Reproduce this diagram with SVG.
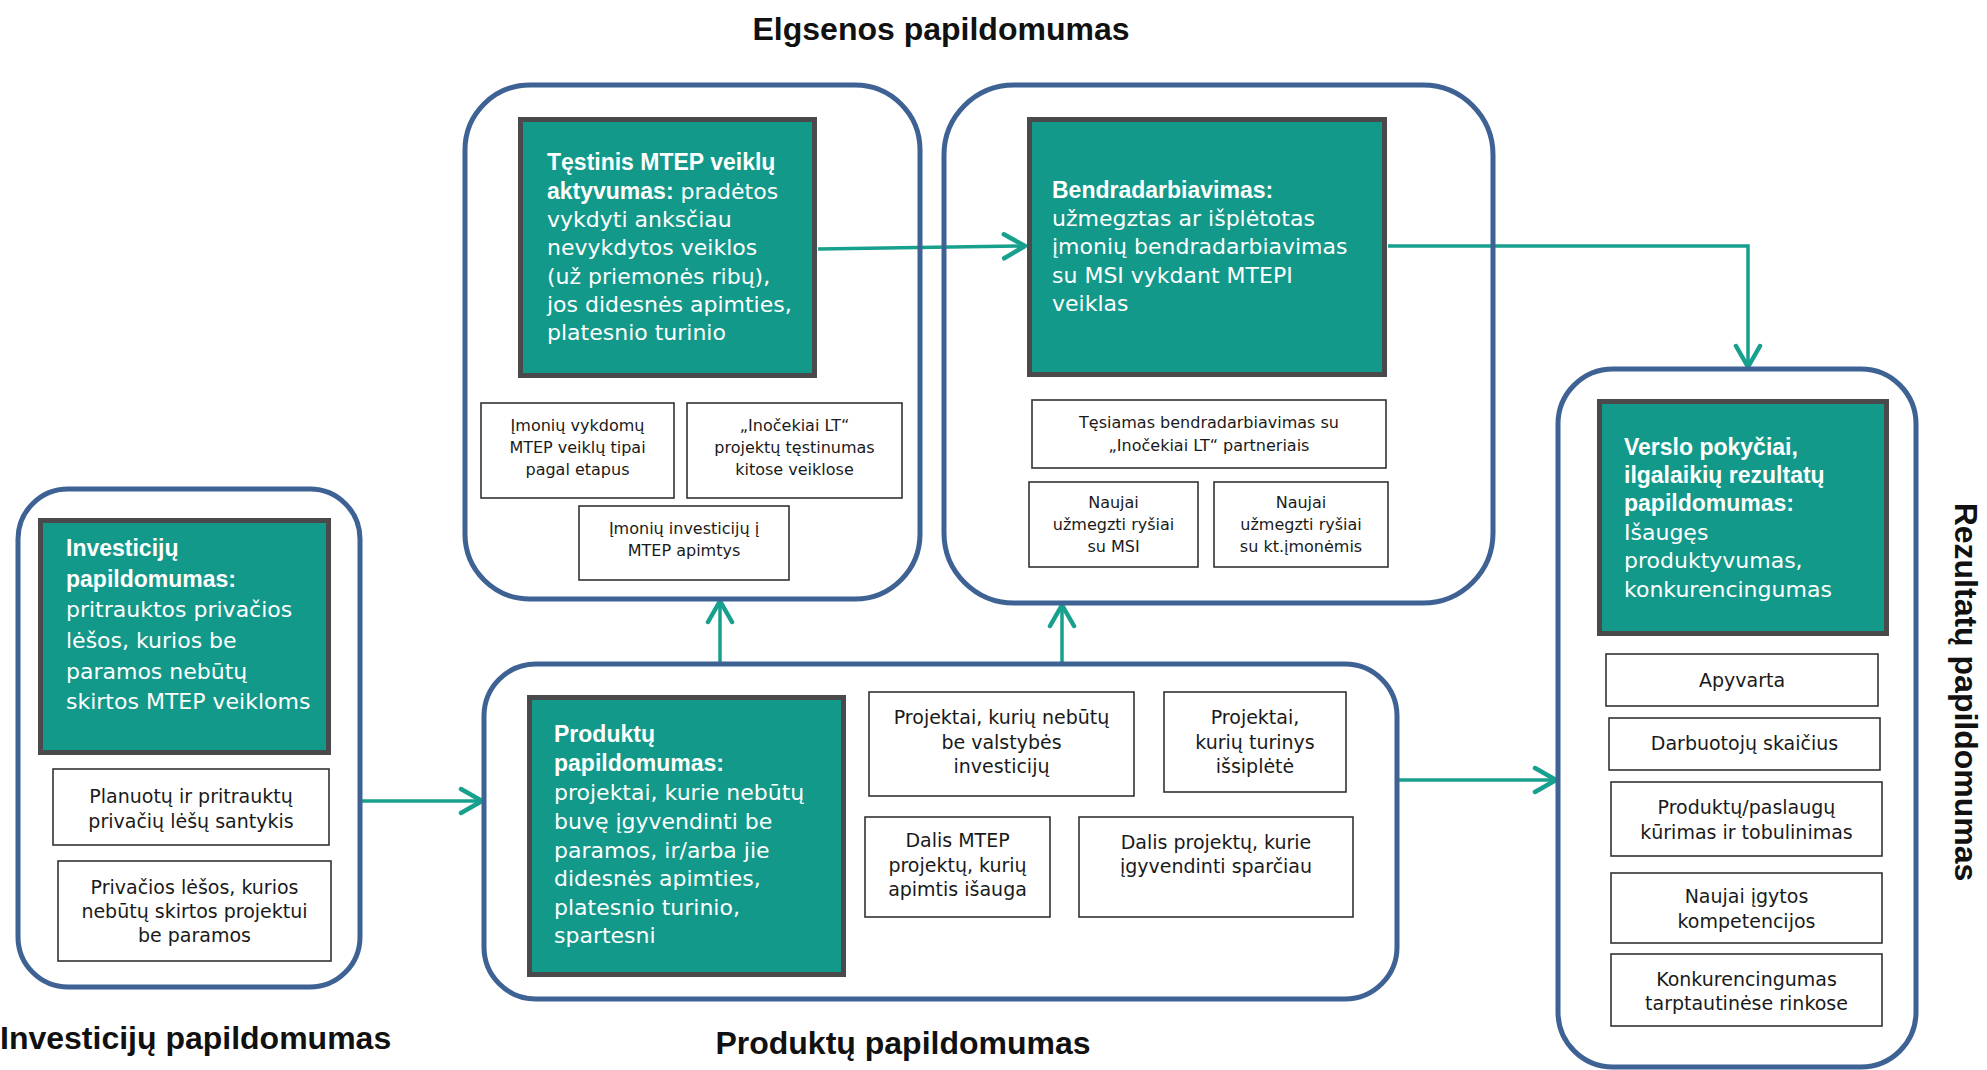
<svg xmlns="http://www.w3.org/2000/svg" width="1987" height="1070" viewBox="0 0 1987 1070">
<defs>
<style>
.cont{fill:none;stroke:#3D6293;stroke-width:5}
.gbox{fill:#12998A;stroke:#4A4A4C;stroke-width:5}
.sbox{fill:#fff;stroke:#333;stroke-width:1.6}
.gt{font-family:"DejaVu Sans",sans-serif;font-size:22px;fill:#fff}
.gb{font-family:"Liberation Sans",Arial,sans-serif;font-weight:bold;font-size:23px}
.st{font-family:"DejaVu Sans",sans-serif;font-size:16px;fill:#1a1a1a;text-anchor:middle}
.s19{font-size:19px}
.title{font-family:"Liberation Sans",Arial,sans-serif;font-weight:bold;font-size:32px;fill:#111}
.conn{stroke:#17A08D;stroke-width:3.5;fill:none;marker-end:url(#arr)}
</style>
<marker id="arr" markerUnits="userSpaceOnUse" markerWidth="30" markerHeight="30" viewBox="0 0 30 30" refX="27" refY="15" orient="auto">
<path d="M6,3 L27,15 L6,27" fill="none" stroke="#17A08D" stroke-width="4.5" stroke-linecap="round" stroke-linejoin="round"/>
</marker>
</defs>
<rect width="1987" height="1070" fill="#fff"/>

<g id="connectors">
<path class="conn" d="M818,249 L1025,246"/>
<path class="conn" d="M1388,246 L1748,246 L1748,367"/>
<path class="conn" d="M360,801 L482,801"/>
<path class="conn" d="M720,663 L720,601"/>
<path class="conn" d="M1062,663 L1062,605"/>
<path class="conn" d="M1397,780 L1556,780"/>
</g>

<g id="elgsenos-title">
<text class="title" x="941" y="40" text-anchor="middle">Elgsenos papildomumas</text>
</g>

<g id="testinis-group">
<rect class="cont" x="465" y="85" width="455" height="514" rx="65"/>
<g id="testinis">
<rect class="gbox" x="520.5" y="119.5" width="294" height="256"/>
<text class="gt" x="547" y="170"><tspan class="gb">Tęstinis MTEP veiklų</tspan></text>
<text class="gt" x="547" y="199"><tspan class="gb">aktyvumas:</tspan> pradėtos</text>
<text class="gt" x="547" y="227">vykdyti anksčiau</text>
<text class="gt" x="547" y="255">nevykdytos veiklos</text>
<text class="gt" x="547" y="284">(už priemonės ribų),</text>
<text class="gt" x="547" y="312">jos didesnės apimties,</text>
<text class="gt" x="547" y="340">platesnio turinio</text>
</g>
<g id="veiklu-tipai">
<rect class="sbox" x="481" y="403" width="193" height="95"/>
<text class="st" x="577.5" y="431">Įmonių vykdomų</text>
<text class="st" x="577.5" y="453">MTEP veiklų tipai</text>
<text class="st" x="577.5" y="475">pagal etapus</text>
</g>
<g id="testinumas">
<rect class="sbox" x="687" y="403" width="215" height="95"/>
<text class="st" x="794.5" y="431">„Inočekiai LT“</text>
<text class="st" x="794.5" y="453">projektų tęstinumas</text>
<text class="st" x="794.5" y="475">kitose veiklose</text>
</g>
<g id="investiciju-apimtys">
<rect class="sbox" x="579" y="506" width="210" height="74"/>
<text class="st" x="684" y="534">Įmonių investicijų į</text>
<text class="st" x="684" y="556">MTEP apimtys</text>
</g>
</g>

<g id="bendradarbiavimas-group">
<rect class="cont" x="944" y="85" width="549" height="518" rx="70"/>
<g id="bendradarbiavimas">
<rect class="gbox" x="1029.5" y="119.5" width="355" height="255"/>
<text class="gt" x="1052" y="198"><tspan class="gb">Bendradarbiavimas:</tspan></text>
<text class="gt" x="1052" y="226">užmegztas ar išplėtotas</text>
<text class="gt" x="1052" y="254">įmonių bendradarbiavimas</text>
<text class="gt" x="1052" y="283">su MSI vykdant MTEPI</text>
<text class="gt" x="1052" y="311">veiklas</text>
</g>
<g id="tesiamas">
<rect class="sbox" x="1032" y="400" width="354" height="68"/>
<text class="st" x="1209" y="428">Tęsiamas bendradarbiavimas su</text>
<text class="st" x="1209" y="451">„Inočekiai LT“ partneriais</text>
</g>
<g id="rysiai-msi">
<rect class="sbox" x="1029" y="482" width="169" height="85"/>
<text class="st" x="1113.5" y="508">Naujai</text>
<text class="st" x="1113.5" y="530">užmegzti ryšiai</text>
<text class="st" x="1113.5" y="552">su MSI</text>
</g>
<g id="rysiai-imones">
<rect class="sbox" x="1214" y="482" width="174" height="85"/>
<text class="st" x="1301" y="508">Naujai</text>
<text class="st" x="1301" y="530">užmegzti ryšiai</text>
<text class="st" x="1301" y="552">su kt.įmonėmis</text>
</g>
</g>

<g id="investiciju-group">
<rect class="cont" x="18" y="489" width="342" height="498" rx="50"/>
<g id="investiciju">
<rect class="gbox" x="40.5" y="520.5" width="288" height="232"/>
<text class="gt" x="66" y="556"><tspan class="gb">Investicijų</tspan></text>
<text class="gt" x="66" y="587"><tspan class="gb">papildomumas:</tspan></text>
<text class="gt" x="66" y="617">pritrauktos privačios</text>
<text class="gt" x="66" y="648">lėšos, kurios be</text>
<text class="gt" x="66" y="679">paramos nebūtų</text>
<text class="gt" x="66" y="709">skirtos MTEP veikloms</text>
</g>
<g id="santykis">
<rect class="sbox" x="53" y="769" width="276" height="76"/>
<text class="st s19" x="191" y="803">Planuotų ir pritrauktų</text>
<text class="st s19" x="191" y="828">privačių lėšų santykis</text>
</g>
<g id="privacios-lesos">
<rect class="sbox" x="58" y="861" width="273" height="100"/>
<text class="st s19" x="194.5" y="894">Privačios lėšos, kurios</text>
<text class="st s19" x="194.5" y="918">nebūtų skirtos projektui</text>
<text class="st s19" x="194.5" y="942">be paramos</text>
</g>
<text class="title" x="0" y="1049">Investicijų papildomumas</text>
</g>

<g id="produktu-group">
<rect class="cont" x="484" y="664" width="913" height="335" rx="52"/>
<g id="produktu">
<rect class="gbox" x="529.5" y="697.5" width="314" height="277"/>
<text class="gt" x="554" y="742"><tspan class="gb">Produktų</tspan></text>
<text class="gt" x="554" y="771"><tspan class="gb">papildomumas:</tspan></text>
<text class="gt" x="554" y="800">projektai, kurie nebūtų</text>
<text class="gt" x="554" y="829">buvę įgyvendinti be</text>
<text class="gt" x="554" y="858">paramos, ir/arba jie</text>
<text class="gt" x="554" y="886">didesnės apimties,</text>
<text class="gt" x="554" y="915">platesnio turinio,</text>
<text class="gt" x="554" y="943">spartesni</text>
</g>
<g id="be-valstybes">
<rect class="sbox" x="869" y="692" width="265" height="104"/>
<text class="st s19" x="1001.5" y="724">Projektai, kurių nebūtų</text>
<text class="st s19" x="1001.5" y="749">be valstybės</text>
<text class="st s19" x="1001.5" y="773">investicijų</text>
</g>
<g id="turinys">
<rect class="sbox" x="1164" y="692" width="182" height="100"/>
<text class="st s19" x="1255" y="724">Projektai,</text>
<text class="st s19" x="1255" y="749">kurių turinys</text>
<text class="st s19" x="1255" y="773">išsiplėtė</text>
</g>
<g id="apimtis">
<rect class="sbox" x="865" y="817" width="185" height="100"/>
<text class="st s19" x="957.5" y="847">Dalis MTEP</text>
<text class="st s19" x="957.5" y="872">projektų, kurių</text>
<text class="st s19" x="957.5" y="896">apimtis išauga</text>
</g>
<g id="sparciau">
<rect class="sbox" x="1079" y="817" width="274" height="100"/>
<text class="st s19" x="1216" y="849">Dalis projektų, kurie</text>
<text class="st s19" x="1216" y="873">įgyvendinti sparčiau</text>
</g>
<text class="title" x="903" y="1054" text-anchor="middle">Produktų papildomumas</text>
</g>

<g id="rezultatu-group">
<rect class="cont" x="1558" y="369" width="358" height="698" rx="55"/>
<g id="rezultatu">
<rect class="gbox" x="1599.5" y="401.5" width="287" height="232"/>
<text class="gt" x="1624" y="455"><tspan class="gb">Verslo pokyčiai,</tspan></text>
<text class="gt" x="1624" y="483"><tspan class="gb">ilgalaikių rezultatų</tspan></text>
<text class="gt" x="1624" y="511"><tspan class="gb">papildomumas:</tspan></text>
<text class="gt" x="1624" y="540">Išaugęs</text>
<text class="gt" x="1624" y="568">produktyvumas,</text>
<text class="gt" x="1624" y="597">konkurencingumas</text>
</g>
<g id="apyvarta">
<rect class="sbox" x="1606" y="654" width="272" height="52"/>
<text class="st s19" x="1742" y="687">Apyvarta</text>
</g>
<g id="darbuotojai">
<rect class="sbox" x="1609" y="718" width="271" height="52"/>
<text class="st s19" x="1744.5" y="750">Darbuotojų skaičius</text>
</g>
<g id="kurimas">
<rect class="sbox" x="1611" y="782" width="271" height="74"/>
<text class="st s19" x="1746.5" y="814">Produktų/paslaugų</text>
<text class="st s19" x="1746.5" y="839">kūrimas ir tobulinimas</text>
</g>
<g id="kompetencijos">
<rect class="sbox" x="1611" y="873" width="271" height="70"/>
<text class="st s19" x="1746.5" y="903">Naujai įgytos</text>
<text class="st s19" x="1746.5" y="928">kompetencijos</text>
</g>
<g id="konkurencingumas">
<rect class="sbox" x="1611" y="954" width="271" height="72"/>
<text class="st s19" x="1746.5" y="986">Konkurencingumas</text>
<text class="st s19" x="1746.5" y="1010">tarptautinėse rinkose</text>
</g>
<text class="title" transform="translate(1955,692) rotate(90)" x="0" y="0" text-anchor="middle">Rezultatų papildomumas</text>
</g>
</svg>
